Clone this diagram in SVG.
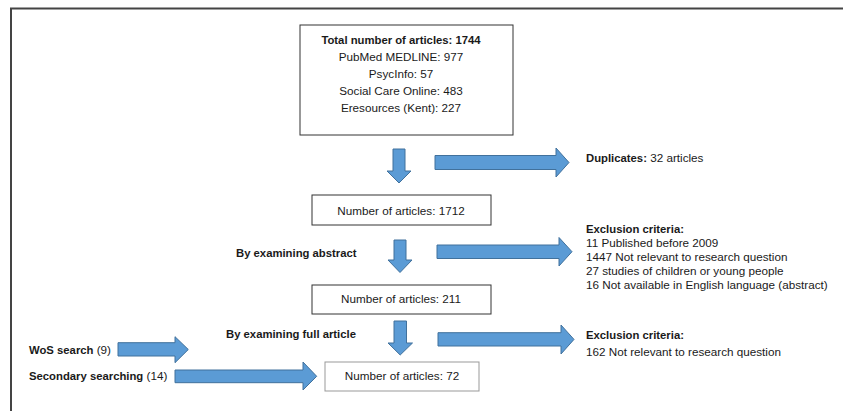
<svg xmlns="http://www.w3.org/2000/svg" width="843" height="411" viewBox="0 0 843 411">
<defs>
<style>
text{font-family:"Liberation Sans",Arial,sans-serif;font-size:11.7px;fill:#1a1a1a}
.b{font-weight:bold;font-size:11.3px}
.c{text-anchor:middle}
.box{fill:#fff;stroke:#333;stroke-width:1}
.arr{fill:#5B9BD5;stroke:#41719C;stroke-width:1}
</style>
</defs>
<rect width="843" height="411" fill="#fff"/>
<path d="M11,411 V8.5 H843" fill="none" stroke="#444" stroke-width="2"/>

<g id="n-total">
<rect class="box" x="300" y="25" width="213" height="110"/>
<text class="c b" x="401" y="44">Total number of articles: 1744</text>
<text class="c" x="401" y="61">PubMed MEDLINE: 977</text>
<text class="c" x="401" y="78">PsycInfo: 57</text>
<text class="c" x="401" y="95">Social Care Online: 483</text>
<text class="c" x="401" y="112">Eresources (Kent): 227</text>
</g>

<g id="n-1712">
<rect class="box" x="312" y="195" width="179" height="30"/>
<text class="c" x="401" y="215">Number of articles: 1712</text>
</g>

<g id="n-211">
<rect class="box" x="312" y="285" width="179" height="29"/>
<text class="c" x="401" y="303">Number of articles: 211</text>
</g>

<g id="n-72">
<rect x="325" y="362" width="154" height="29" fill="#fff" stroke="#999" stroke-width="1"/>
<text class="c" x="402" y="380">Number of articles: 72</text>
</g>

<g id="n-duplicates">
<text x="586" y="162"><tspan class="b">Duplicates:</tspan> 32 articles</text>
</g>

<g id="n-excl1">
<text class="b" x="586" y="233">Exclusion criteria:</text>
<text x="586" y="247">11 Published before 2009</text>
<text x="586" y="261">1447 Not relevant to research question</text>
<text x="586" y="275">27 studies of children or young people</text>
<text x="586" y="289">16 Not available in English language (abstract)</text>
</g>

<g id="n-excl2">
<text class="b" x="586" y="339">Exclusion criteria:</text>
<text x="586" y="356">162 Not relevant to research question</text>
</g>

<g id="n-wos">
<text x="29" y="354"><tspan class="b">WoS search</tspan> (9)</text>
</g>

<g id="n-secondary">
<text x="29" y="380"><tspan class="b">Secondary searching</tspan> (14)</text>
</g>

<g id="labels">
<text class="b" x="236" y="257">By examining abstract</text>
<text class="b" x="226" y="338">By examining full article</text>
</g>

<g id="connectors">
<path class="arr" d="M393,149 H405 V171 H411 L399,183 L387,171 H393 Z"/>
<path class="arr" d="M435,155.5 H556 V148 L569,162.5 L556,177 V169.5 H435 Z"/>
<path class="arr" d="M394,240 H406 V260 H412 L400,272.5 L388,260 H394 Z"/>
<path class="arr" d="M437,245 H559 V237.5 L572,251.7 L559,266 V258.5 H437 Z"/>
<path class="arr" d="M394,321 H406.5 V343 H412.5 L400.2,355 L388,343 H394 Z"/>
<path class="arr" d="M438,332.7 H561 V325 L574,339.4 L561,354 V346 H438 Z"/>
<path class="arr" d="M118,342.7 H175 V336.7 L188.3,349.5 L175,362.7 V356 H118 Z"/>
<path class="arr" d="M175,370 H303 V362 L316.7,376.3 L303,390 V382.7 H175 Z"/>
</g>
</svg>
